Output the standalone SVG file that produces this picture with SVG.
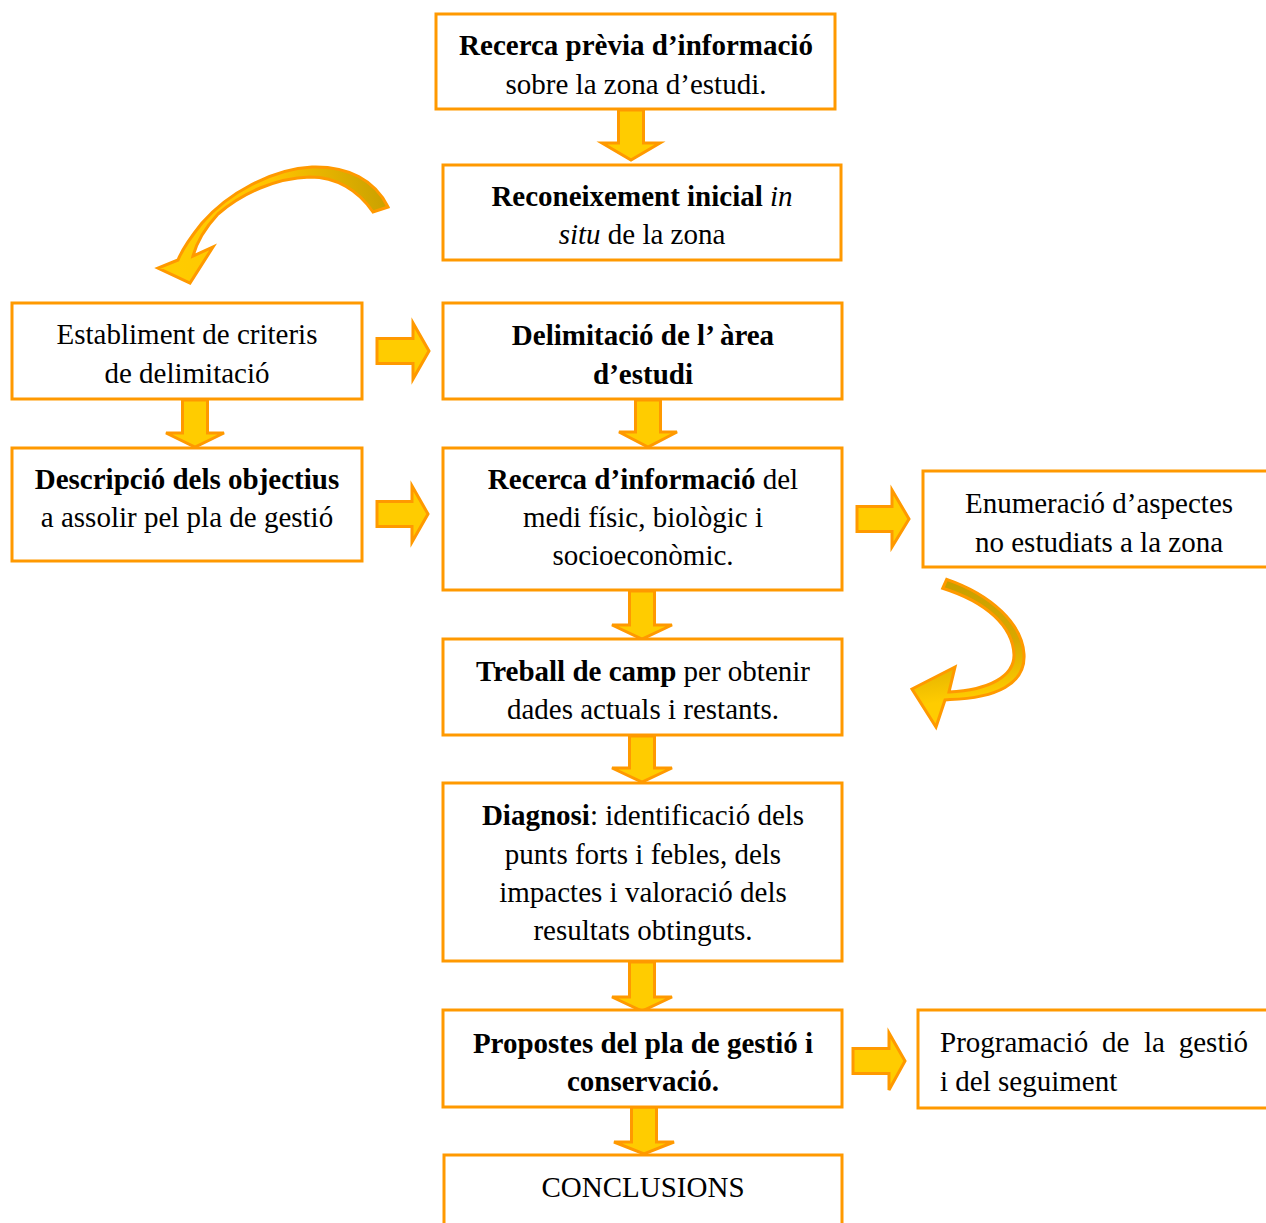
<svg xmlns="http://www.w3.org/2000/svg" width="1266" height="1223" viewBox="0 0 1266 1223">
<style>
.box{fill:#FFFFFF;stroke:#FF9900;stroke-width:3}
.arr{fill:#FFCC00;stroke:#FF9900;stroke-width:3;stroke-linejoin:miter}
text{font-family:"Liberation Serif","DejaVu Serif","Noto Serif",serif;font-size:29px;fill:#000000}
.c{text-anchor:middle}
.b{font-weight:bold}
.i{font-style:italic}
</style>
<defs>
<linearGradient id="gA" gradientUnits="userSpaceOnUse" x1="170" y1="240" x2="390" y2="200">
<stop offset="0" stop-color="#FFCC00"/>
<stop offset="0.5" stop-color="#FFC400"/>
<stop offset="1" stop-color="#C8A000"/>
</linearGradient>
<linearGradient id="gB" gradientUnits="userSpaceOnUse" x1="945" y1="585" x2="960" y2="700">
<stop offset="0" stop-color="#C8A000"/>
<stop offset="0.55" stop-color="#D8A800"/>
<stop offset="1" stop-color="#FFCC00"/>
</linearGradient>
</defs>
<rect width="1266" height="1223" fill="#FFFFFF"/>

<g id="connectors">
<polygon class="arr" points="618.5,110 643.5,110 643.5,143 660,143 631,160 602,143 618.5,143"/>
<polygon class="arr" points="182.5,400 207.5,400 207.5,433 224,433 195,447 166,433 182.5,433"/>
<polygon class="arr" points="635.5,400 660.5,400 660.5,432 677,432 648,447 619,432 635.5,432"/>
<polygon class="arr" points="629.5,591 654.5,591 654.5,625 672,625 642,639 612,625 629.5,625"/>
<polygon class="arr" points="629.5,736 654.5,736 654.5,768 672,768 642,782 612,768 629.5,768"/>
<polygon class="arr" points="629.5,962 654.5,962 654.5,997 672,997 642,1011 612,997 629.5,997"/>
<polygon class="arr" points="631.5,1107 656.5,1107 656.5,1142 674,1142 644,1154 614,1142 631.5,1142"/>
<polygon class="arr" points="377,338.5 413,338.5 413,323 429,351 413,379 413,363.5 377,363.5"/>
<polygon class="arr" points="377,501.5 412,501.5 412,486 428,514 412,542 412,526.5 377,526.5"/>
<polygon class="arr" points="857,506.5 892,506.5 892,490 909,519 892,547 892,531.5 857,531.5"/>
<polygon class="arr" points="853,1048.5 889,1048.5 889,1033 905,1061 889,1090 889,1073.5 853,1073.5"/>
<path d="M388,207 C375,180 348,166 312,167 C272,169 228,193 202,223 C190,238 182,250 178,260 L158,268 L190,283 L213,247 L193,256 C197,241 206,227 218,214 C242,193 276,178 310,177 C336,177 358,190 373,212 Z" fill="url(#gA)" stroke="#FF9900" stroke-width="3" stroke-linejoin="miter"/>
<path d="M946.7,579.3 C992,595 1022,624 1024,654 C1026,684 996,698 950,699.5 L945,700 L936,727 L912,689 L955,667 L949,692 C990,690 1014,676 1014,655 C1013,626 986,602 942.7,588.3 Z" fill="url(#gB)" stroke="#FF9900" stroke-width="3" stroke-linejoin="miter"/>
</g>

<g id="n1">
<rect class="box" x="436" y="14" width="399" height="95"/>
<text class="c b" x="636" y="55">Recerca prèvia d’informació</text>
<text class="c" x="636" y="94">sobre la zona d’estudi.</text>
</g>
<g id="n2">
<rect class="box" x="443" y="165" width="398" height="95"/>
<text class="c" x="642" y="206"><tspan class="b">Reconeixement inicial</tspan> <tspan class="i">in</tspan></text>
<text class="c" x="642" y="244"><tspan class="i">situ</tspan> de la zona</text>
</g>
<g id="n3">
<rect class="box" x="12" y="303" width="350" height="96"/>
<text class="c" x="187" y="344">Establiment de criteris</text>
<text class="c" x="187" y="383">de delimitació</text>
</g>
<g id="n4">
<rect class="box" x="443" y="303" width="399" height="96"/>
<text class="c b" x="643" y="345">Delimitació de l’ àrea</text>
<text class="c b" x="643" y="384">d’estudi</text>
</g>
<g id="n5">
<rect class="box" x="12" y="448" width="350" height="113"/>
<text class="c b" x="187" y="489">Descripció dels objectius</text>
<text class="c" x="187" y="527">a assolir pel pla de gestió</text>
</g>
<g id="n6">
<rect class="box" x="443" y="448" width="399" height="142"/>
<text class="c" x="643" y="489"><tspan class="b">Recerca d’informació</tspan> del</text>
<text class="c" x="643" y="527">medi físic, biològic i</text>
<text class="c" x="643" y="565">socioeconòmic.</text>
</g>
<g id="n7">
<rect class="box" x="923" y="471" width="350" height="96"/>
<text class="c" x="1099" y="513">Enumeració d’aspectes</text>
<text class="c" x="1099" y="552">no estudiats a la zona</text>
</g>
<g id="n8">
<rect class="box" x="443" y="639" width="399" height="96"/>
<text class="c" x="643" y="681"><tspan class="b">Treball de camp</tspan> per obtenir</text>
<text class="c" x="643" y="719">dades actuals i restants.</text>
</g>
<g id="n9">
<rect class="box" x="443" y="783" width="399" height="178"/>
<text class="c" x="643" y="825"><tspan class="b">Diagnosi</tspan>: identificació dels</text>
<text class="c" x="643" y="864">punts forts i febles, dels</text>
<text class="c" x="643" y="902">impactes i valoració dels</text>
<text class="c" x="643" y="940">resultats obtinguts.</text>
</g>
<g id="n10">
<rect class="box" x="443" y="1010" width="399" height="97"/>
<text class="c b" x="643" y="1053">Propostes del pla de gestió i</text>
<text class="c b" x="643" y="1091">conservació.</text>
</g>
<g id="n11">
<rect class="box" x="918" y="1010" width="360" height="98"/>
<text x="940" y="1052">Programació</text>
<text x="1102" y="1052">de</text>
<text x="1144" y="1052">la</text>
<text x="1248" y="1052" text-anchor="end">gestió</text>
<text x="940" y="1091">i del seguiment</text>
</g>
<g id="n12">
<rect class="box" x="444" y="1155" width="398" height="90"/>
<text class="c" x="643" y="1197">CONCLUSIONS</text>
</g>
</svg>
